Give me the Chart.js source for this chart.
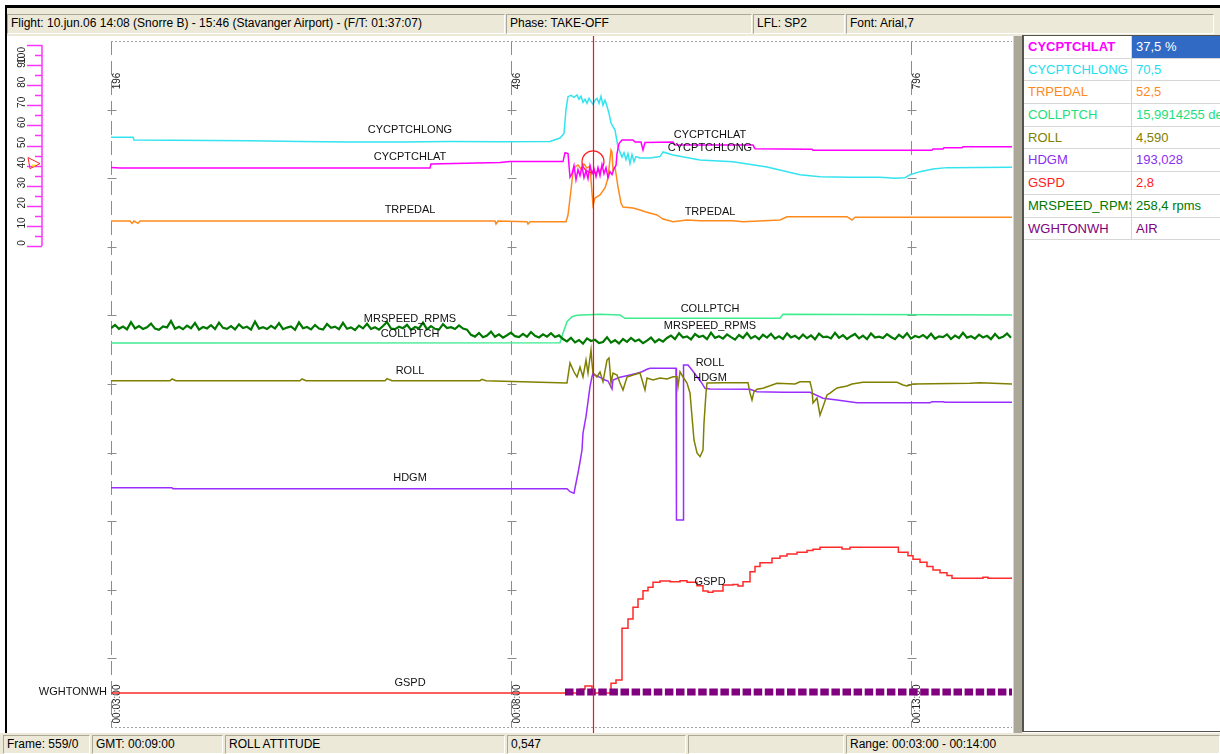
<!DOCTYPE html>
<html>
<head>
<meta charset="utf-8">
<title>Flight data - TAKE-OFF</title>
<script src="https://cdn.jsdelivr.net/npm/chart.js@4.4.1/dist/chart.umd.min.js"></script>
<style>
body { margin:0; width:1220px; height:754px; position:relative; overflow:hidden; background:#fff; font-family:"Liberation Sans", Arial, sans-serif; }
.blk { position:absolute; background:#000; }
.bar { position:absolute; background:#ECE9D8; }
.pane { position:absolute; box-sizing:border-box; border-top:1px solid #ACA899; border-left:1px solid #ACA899; border-right:1px solid #fff; border-bottom:1px solid #fff; font-size:12px; line-height:17px; padding-left:3px; white-space:nowrap; overflow:hidden; color:#000; }
#plot { position:absolute; left:7px; top:36px; width:1006px; height:697px; background:#fff; }
#panel { position:absolute; left:1022px; top:35px; width:198px; height:697px; background:#fff; box-sizing:border-box; border-left:2px solid #55544c; border-top:1px solid #55544c; border-bottom:1px solid #55544c; }
.row { height:22.7px; display:flex; border-bottom:1px solid #d6d6d6; box-sizing:border-box; font-size:13px; line-height:21.7px; }
.name { width:108px; padding-left:4px; border-right:1px solid #d6d6d6; overflow:hidden; white-space:nowrap; box-sizing:border-box; }
.val { flex:1; padding-left:4px; white-space:nowrap; overflow:hidden; }
.sel { background:#316AC5; color:#fff; }
</style>
</head>
<body>
<div class="blk" style="left:5px;top:5px;width:1215px;height:3px"></div>
<div class="blk" style="left:5px;top:5px;width:2px;height:728px"></div>

<div class="bar" style="left:7px;top:8px;width:1213px;height:28px">
  <div class="pane" style="left:0;top:6px;width:498px;height:20px">Flight: 10.jun.06 14:08 (Snorre B) - 15:46 (Stavanger Airport) - (F/T: 01:37:07)</div>
  <div class="pane" style="left:499px;top:6px;width:246px;height:20px">Phase: TAKE-OFF</div>
  <div class="pane" style="left:746px;top:6px;width:92px;height:20px">LFL: SP2</div>
  <div class="pane" style="left:839px;top:6px;width:368px;height:20px">Font: Arial,7</div>
</div>

<div id="plot"><canvas id="chart" width="1006" height="697"></canvas></div>
<div class="bar" style="left:1013px;top:36px;width:9px;height:697px;background:#ACA899;border-left:1px solid #d8d5c8;box-sizing:border-box"></div>

<div id="panel">
  <div class="row"><div class="name" style="color:#FF00FF;font-weight:bold">CYCPTCHLAT</div><div class="val sel">37,5 %</div></div>
  <div class="row"><div class="name" style="color:#22DDEE">CYCPTCHLONG</div><div class="val" style="color:#22DDEE">70,5</div></div>
  <div class="row"><div class="name" style="color:#FF8A1C">TRPEDAL</div><div class="val" style="color:#FF8A1C">52,5</div></div>
  <div class="row"><div class="name" style="color:#1EE07A">COLLPTCH</div><div class="val" style="color:#1EE07A">15,9914255 deg</div></div>
  <div class="row"><div class="name" style="color:#808000">ROLL</div><div class="val" style="color:#808000">4,590</div></div>
  <div class="row"><div class="name" style="color:#8A2EF0">HDGM</div><div class="val" style="color:#8A2EF0">193,028</div></div>
  <div class="row"><div class="name" style="color:#FF2020">GSPD</div><div class="val" style="color:#FF2020">2,8</div></div>
  <div class="row"><div class="name" style="color:#007800">MRSPEED_RPMS</div><div class="val" style="color:#007800">258,4 rpms</div></div>
  <div class="row"><div class="name" style="color:#800080">WGHTONWH</div><div class="val" style="color:#800080">AIR</div></div>
</div>

<div class="bar" style="left:0;top:733px;width:1220px;height:21px">
  <div class="pane" style="left:3px;top:2px;width:87px;height:19px">Frame: 559/0</div>
  <div class="pane" style="left:92px;top:2px;width:131px;height:19px">GMT: 00:09:00</div>
  <div class="pane" style="left:225px;top:2px;width:280px;height:19px">ROLL ATTITUDE</div>
  <div class="pane" style="left:507px;top:2px;width:179px;height:19px">0,547</div>
  <div class="pane" style="left:688px;top:2px;width:156px;height:19px"></div>
  <div class="pane" style="left:846px;top:2px;width:374px;height:19px">Range: 00:03:00 - 00:14:00</div>
</div>

<script>
// time axis (seconds from flight start)
const timeMin = 180;
const timeMax = 855.75;
const gridTimes = [180, 480, 780];
const frameLabels = ['196', '496', '796'];
const timeLabels = ['00:03:00', '00:08:00', '00:13:00'];
const cursorTime = 541.5;
const cursorMark = 41.9;
const latMarker = 41;
const latScaleTicks = [0, 10, 20, 30, 40, 50, 60, 70, 80, 90, 100];

// CYCPTCHLAT (%)
const latTimes = [180, 186.75, 419.25, 420, 471.75, 479.25, 519, 520.5, 522.75, 524.25, 525.75, 527.25, 528.75, 530.25, 531.75, 533.25, 534.75, 536.25, 537.75, 539.25, 540.75, 542.25, 543.75, 545.25, 546.75, 548.25, 549.75, 551.25, 552.75, 554.25, 555.75, 557.25, 558.75, 559.5, 561, 563.25, 571.5, 573, 577.5, 579, 580.5, 601.5, 603, 661.5, 663, 705.75, 706.5, 795.75, 796.5, 804, 804.75, 818.25, 819, 855.75];
const latValues = [39.1, 38.8, 38.8, 40.8, 41.5, 42.0, 42.0, 46.4, 46.0, 34.3, 36, 40, 33, 38, 35, 39.5, 34, 37.5, 33.5, 40, 36, 38.5, 34.5, 39, 35, 40.5, 36, 39, 34, 37, 35.5, 38.5, 40, 46, 51, 52.7, 52.7, 51.7, 51.7, 47.8, 51.5, 51.7, 50.2, 50.2, 48.4, 48.2, 47.6, 47.6, 48.3, 48.3, 48.9, 48.9, 49.4, 49.4];

// CYCPTCHLONG (%)
const longTimes = [180, 196.5, 197.25, 284.25, 321.75, 359.25, 396.75, 434.25, 471.75, 509.25, 516.75, 519.75, 521.25, 522.75, 525, 527.25, 529.5, 531, 532.5, 534, 535.5, 537, 538.5, 540, 541.5, 543, 544.5, 546, 547.5, 549, 550.5, 552, 553.5, 555, 558, 560.25, 563.25, 564.75, 566.25, 567.75, 569.25, 570.75, 572.25, 573.75, 576.75, 584.25, 591.75, 594, 601.5, 621.75, 646.5, 672, 696.75, 711.75, 734.25, 756.75, 768, 775.5, 779.25, 786.75, 796.5, 807, 855.75];
const longValues = [54.1, 54.1, 52.8, 52.4, 52.0, 51.7, 51.8, 52.0, 51.9, 52.0, 53.7, 56, 68, 74.3, 75.0, 74.0, 75.2, 73.0, 74.5, 71.5, 73.0, 71.0, 73.5, 72.0, 70.5, 72.5, 73.5, 71.0, 74.5, 70.0, 72.5, 69.5, 66.0, 61.2, 57.7, 49.3, 44.3, 46.5, 43.0, 46.0, 41.0, 45.5, 42.0, 44.5, 43.8, 43.8, 44.5, 46.8, 45.3, 42.8, 41.9, 39.3, 35.5, 34.5, 34.2, 34.2, 33.7, 34.0, 35.5, 37.0, 38.3, 39.0, 39.2];

// TRPEDAL
const trpTimes = [180, 194.25, 195.75, 197.25, 200.25, 201.75, 321.75, 468, 468.75, 470.25, 492, 492.75, 494.25, 521.25, 522.75, 525, 526.5, 528, 530.25, 532.5, 534.75, 537, 539.25, 540.75, 541.5, 543, 546.75, 550.5, 552.75, 555, 555.75, 556.5, 558, 560.25, 562.5, 564, 571.5, 576.75, 581.25, 589.5, 591.75, 594, 601.5, 612, 621.75, 646.5, 654, 681.75, 687, 732, 735.75, 738, 855.75];
const trpValues = [42.0, 42.0, 40.8, 42.0, 40.8, 42.0, 42.0, 42.0, 40.5, 42.0, 41.65, 40.5, 41.65, 41.65, 45, 57.5, 66.65, 69, 70, 68, 70.5, 68.5, 69.5, 56, 50, 53.5, 55, 58.5, 63.5, 77.5, 76.5, 67.5, 69, 59, 51, 49, 48.5, 47.5, 46.5, 45, 44, 43, 41.65, 42.5, 42.15, 42.15, 41.65, 42.5, 44.15, 44.15, 42.5, 43.85, 43.85];

// COLLPTCH (deg)
const collTimes = [180, 516.75, 519, 522, 525.75, 529.5, 546.75, 561.75, 565.5, 681.75, 684, 855.75];
const collValues = [10.4, 10.46, 12.4, 14.66, 15.66, 15.94, 16.14, 16.0, 15.34, 15.34, 16.14, 16.0];

// MRSPEED_RPMS, one sample every 3 s from 180 s
const rpmStart = 180;
const rpmStep = 3;
const rpmValues = [
  265.4, 266.9, 265.0, 266.1, 264.7, 268.3, 265.2, 266.4, 264.9, 265.8,
  267.6, 265.1, 264.5, 266.2, 265.7, 268.9, 265.0, 266.0, 264.8, 266.6,
  265.3, 267.9, 264.6, 265.9, 265.2, 266.8, 264.9, 268.1, 265.5, 265.0,
  266.3, 264.7, 267.2, 265.4, 266.0, 264.6, 268.6, 265.1, 265.8, 264.9,
  266.5, 265.2, 267.8, 264.8, 265.6, 266.2, 264.5, 268.2, 265.3, 265.9,
  264.7, 266.9, 265.1, 264.6, 267.4, 265.5, 266.1, 264.8, 268.0, 265.0,
  265.7, 264.4, 266.6, 265.2, 267.5, 264.9, 265.8, 264.6, 266.4, 268.4,
  265.1, 264.8, 266.0, 265.3, 267.0, 264.5, 265.9, 265.2, 268.1, 264.7,
  266.3, 265.0, 264.6, 267.3, 265.4, 265.8, 264.9, 266.7, 265.1, 264.6,
  262.0, 261.1, 262.9, 260.8, 261.6, 263.6, 261.0, 262.2, 260.6, 261.8,
  263.1, 261.3, 260.9, 262.5, 261.0, 263.4, 261.5, 260.7, 262.2, 261.1,
  262.8, 260.9, 261.7,
  259.9, 258.7, 260.5, 258.2, 259.4, 257.6, 260.2, 258.9, 259.5, 257.9,
  258.4, 260.8, 258.1, 259.3, 257.7, 259.9, 258.5, 260.4, 258.8, 259.6,
  257.8, 259.1, 260.6, 258.3, 259.7, 258.6,
  260.4, 261.6, 259.9, 262.8, 260.6, 261.2, 259.7, 262.4, 260.9, 261.5,
  259.8, 263.1, 260.5, 261.3, 260.1, 262.2, 260.8, 259.6, 261.9, 260.4,
  262.9, 260.2, 261.4, 259.8, 262.0, 260.6, 262.5, 260.1, 261.2, 259.9,
  262.7, 260.7, 261.5, 260.0, 262.1, 260.3, 261.7, 259.7, 262.6, 260.9,
  261.1, 260.2, 263.0, 260.5, 261.8, 259.9, 261.3, 262.4, 260.2, 261.6,
  259.8, 262.7, 260.6, 261.1, 260.4, 262.3, 260.9, 259.8, 262.0, 260.5,
  262.8, 260.1, 261.4, 260.7, 261.9, 260.3, 262.5, 260.0, 261.2, 260.8,
  262.2, 259.9, 261.6, 260.4, 263.0, 260.6, 261.3, 260.1, 262.1, 260.7,
  261.5, 259.8, 262.4, 260.3, 261.0, 262.6, 260.5
];

// ROLL (deg)
const rollTimes = [180, 224.25, 225.75, 228.75, 321.75, 323.25, 326.25, 385.5, 387, 390.75, 456.75, 458.25, 461.25, 522, 524.25, 527.25, 529.5, 531.75, 534, 536.25, 537.75, 540, 540.75, 541.5, 544.5, 546.75, 549, 552, 553.5, 555, 556.5, 559.5, 561.75, 564, 567, 571.5, 576.75, 580.5, 582, 586.5, 591.75, 597, 601.5, 604.5, 605.25, 606.75, 609, 612, 614.25, 615.75, 617.25, 619.5, 621.75, 624, 624.75, 626.25, 627, 639, 657.75, 659.25, 660.75, 662.25, 664.5, 669, 679.5, 693, 696.75, 704.25, 705.75, 706.5, 709.5, 711.75, 714, 717, 719.25, 724.5, 732, 735.75, 744, 769.5, 774, 777, 781.5, 824.25, 831.75, 855.75];
const rollValues = [2.02, 2.02, 2.6, 2.02, 2.02, 2.6, 2.02, 2.02, 2.7, 2.02, 2.02, 2.5, 2.02, 1.26, 7.92, 4.92, 3.26, 6.59, 3.26, 8.92, 4.59, 12.26, 7.92, 4.59, 3.26, 4.92, 1.69, 8.92, 9.59, 1.26, 4.59, 3.9, 1.26, -1.08, 3.26, 3.92, 4.59, -1.08, 2.9, 2.26, 2.9, 2.6, 3.36, 3.36, 0.02, 5.02, 3.26, 1.26, -2.08, -9.98, -17.74, -22.08, -23.31, -21.08, -12.08, -2.08, 1.26, 1.36, 1.36, -2.08, -4.41, -1.64, -0.8, -0.51, 1.16, 0.92, 1.69, 1.69, -1.08, -5.41, -3.74, -9.41, -6.64, -2.74, -2.08, -0.41, 0.25, 0.92, 1.49, 1.49, 0.59, 0.25, 0.92, 1.16, 1.36, 0.92];

// HDGM (deg)
const hdgTimes = [180, 225.75, 226.5, 522, 524.25, 527.25, 528, 530.25, 531.75, 533.25, 534, 536.25, 537.75, 539.25, 540.75, 541.5, 543, 546.75, 550.5, 552.75, 555.75, 556.5, 561.75, 569.25, 574.5, 578.25, 582, 584.25, 603.75, 604.1, 609, 609.4, 612.75, 615.75, 619.5, 623.25, 625.5, 629.25, 659.25, 664.5, 684, 704.25, 714, 724.5, 739.5, 794.25, 795.75, 804, 805.5, 855.75];
const hdgValues = [78.3, 78.3, 77.3, 77.3, 74.3, 72.7, 78, 93, 104, 116, 133, 149.3, 164.3, 179.3, 189.3, 192.7, 191, 188.7, 186, 185, 177, 186, 188.7, 191, 192.7, 194.3, 196.7, 197.7, 197.7, 46, 46, 201, 201, 196, 189.3, 182.7, 177.7, 177, 176.7, 174.3, 173.7, 173.7, 167.7, 166, 163.3, 163.3, 164.3, 164.3, 163.7, 163.7];

// GSPD (kt)
const gspdTimes = [180, 531.75, 535.5, 540.75, 555, 558.75, 563.25, 567.75, 571.5, 575.25, 579, 582.75, 586.5, 591.75, 599.25, 606.75, 612, 619.5, 624, 627.75, 631.5, 639, 646.5, 650.25, 654, 659.25, 663, 666.75, 675.75, 681.75, 687, 694.5, 702, 706.5, 711.75, 726.75, 728.25, 734.25, 770.5, 777.75, 781.5, 786.75, 792, 796.5, 801.75, 807, 810.75, 834, 837.75, 855.75];
const gspdValues = [0, 2.1, 3.9, 0, 5.4, 7.2, 35.9, 41.1, 47.6, 52.2, 56.8, 58.7, 61.5, 62.2, 61.8, 62.4, 61.5, 59.6, 56.7, 55.9, 56.7, 60.0, 60.3, 59.4, 61.8, 67.4, 70.2, 72.4, 74.8, 76.1, 77.2, 78.2, 79.1, 79.8, 80.9, 80.9, 80.0, 80.9, 78.2, 76.3, 74.3, 72.6, 70.2, 68.3, 66.8, 65.2, 63.7, 64.3, 63.7, 64.3];

// WGHTONWH (0 = GROUND, 1 = AIR)
const wowTimes = [180, 520.5, 855.75];
const wowValues = [0, 1, 1];

// trace names written along the traces
const traceLabels = [
  { text: 'CYCPTCHLONG', axis: 'yPct', t: 404.25, v: 57.7 },
  { text: 'CYCPTCHLAT', axis: 'yPct', t: 404.25, v: 44.3 },
  { text: 'TRPEDAL', axis: 'yTrp', t: 404.25, v: 47.5 },
  { text: 'MRSPEED_RPMS', axis: 'yRpm', t: 404.25, v: 269.9 },
  { text: 'COLLPTCH', axis: 'yColl', t: 404.25, v: 12.3 },
  { text: 'ROLL', axis: 'yRoll', t: 404.25, v: 5.26 },
  { text: 'HDGM', axis: 'yHdg', t: 404.25, v: 88 },
  { text: 'GSPD', axis: 'yGspd', t: 404.25, v: 5.6 },
  { text: 'CYCPTCHLAT', axis: 'yPct', t: 629.25, v: 55.2 },
  { text: 'CYCPTCHLONG', axis: 'yPct', t: 629.25, v: 48.6 },
  { text: 'TRPEDAL', axis: 'yTrp', t: 629.25, v: 46.65 },
  { text: 'COLLPTCH', axis: 'yColl', t: 629.25, v: 17.3 },
  { text: 'MRSPEED_RPMS', axis: 'yRpm', t: 629.25, v: 266.4 },
  { text: 'ROLL', axis: 'yRoll', t: 629.25, v: 7.8 },
  { text: 'HDGM', axis: 'yHdg', t: 629.25, v: 187.7 },
  { text: 'GSPD', axis: 'yGspd', t: 629.25, v: 61.5 }
];

function toPoints(times, values) {
  return times.map((t, i) => ({ x: t, y: values[i] }));
}

function vText(ctx, text, x, y) {
    ctx.save();
    ctx.translate(x, y);
    ctx.rotate(-Math.PI / 2);
    ctx.textAlign = 'center';
    ctx.textBaseline = 'middle';
    ctx.fillText(text, 0, 0);
    ctx.restore();
}

// frame, cursor, scale and labels
const overlay = {
    id: 'overlay',
    beforeDatasetsDraw(chart) {
        const { ctx, chartArea: a, scales } = chart;
        const xs = scales.x;
        ctx.save();
        ctx.strokeStyle = '#a0a0a0';
        ctx.lineWidth = 1;
        ctx.setLineDash([2, 2]);
        [a.top, a.bottom].forEach(y => {
            ctx.beginPath();
            ctx.moveTo(a.left, y + 0.5);
            ctx.lineTo(a.right, y + 0.5);
            ctx.stroke();
        });
        ctx.setLineDash([]);
        ctx.strokeStyle = '#8c8c8c';
        ctx.fillStyle = '#222';
        ctx.font = '10px "Liberation Sans"';
        gridTimes.forEach((t, i) => {
            const x = Math.round(xs.getPixelForValue(t)) + 0.5;
            for (let k = 1; k < 10; k++) {
                const y = Math.round(a.top + (a.bottom - a.top) * k / 10) + 0.5;
                ctx.beginPath();
                ctx.moveTo(x - 4, y);
                ctx.lineTo(x + 5, y);
                ctx.stroke();
            }
            vText(ctx, frameLabels[i], x + 6, a.top + 40);
            vText(ctx, timeLabels[i], x + 6, a.bottom - 23);
        });
        ctx.restore();
    },
    afterDatasetsDraw(chart) {
        const { ctx, chartArea: a, scales } = chart;
        const xs = scales.x;
        ctx.save();

        // trace names
        ctx.font = '11px "Liberation Sans"';
        ctx.fillStyle = '#111';
        ctx.textAlign = 'center';
        ctx.textBaseline = 'middle';
        traceLabels.forEach(l => {
            ctx.fillText(l.text, xs.getPixelForValue(l.t), scales[l.axis].getPixelForValue(l.v));
        });

        // WGHTONWH name left of its trace
        ctx.textAlign = 'right';
        ctx.fillText('WGHTONWH', a.left - 4, scales.yWow.getPixelForValue(1));

        // cursor
        const cx = Math.round(xs.getPixelForValue(cursorTime)) + 0.5;
        ctx.strokeStyle = '#ff1010';
        ctx.lineWidth = 1.2;
        ctx.beginPath();
        ctx.moveTo(cx, 0);
        ctx.lineTo(cx, chart.height);
        ctx.stroke();

        // CYCPTCHLAT scale on the left
        const ys = scales.yPct;
        const lx = a.left - 69;
        const top = ys.getPixelForValue(100);
        ctx.strokeStyle = '#ff33ff';
        ctx.lineWidth = 1.5;
        ctx.beginPath();
        ctx.moveTo(lx, ys.getPixelForValue(0));
        ctx.lineTo(lx, top);
        ctx.stroke();
        for (let v = 0; v <= 100; v += 5) {
            const y = Math.round(ys.getPixelForValue(v)) + 0.5;
            ctx.beginPath();
            ctx.moveTo(lx - (v % 10 === 0 ? 15 : 7), y);
            ctx.lineTo(lx, y);
            ctx.stroke();
        }
        ctx.fillStyle = '#222';
        ctx.font = '10px "Liberation Sans"';
        latScaleTicks.forEach(v => {
            const half = ctx.measureText(String(v)).width / 2;
            const y = Math.max(ys.getPixelForValue(v) - 3, top + half + 2);
            vText(ctx, String(v), lx - 20, y);
        });

        // value marker
        const my = ys.getPixelForValue(latMarker);
        ctx.strokeStyle = '#ff2020';
        ctx.lineWidth = 1;
        ctx.beginPath();
        ctx.moveTo(lx - 14, my - 6);
        ctx.lineTo(lx - 2, my);
        ctx.lineTo(lx - 12, my + 5);
        ctx.closePath();
        ctx.stroke();
        ctx.fillStyle = '#f0e020';
        ctx.fillRect(lx - 10, my + 1, 3, 2);
        ctx.restore();
    }
};

const datasets = [
    { label: 'CYCPTCHLAT', data: toPoints(latTimes, latValues), yAxisID: 'yPct', borderColor: '#FF00FF' },
    { label: 'CYCPTCHLONG', data: toPoints(longTimes, longValues), yAxisID: 'yPct', borderColor: '#33E3F0' },
    { label: 'cursor', data: [{ x: cursorTime, y: cursorMark }], yAxisID: 'yPct', showLine: false,
      pointRadius: 11, pointBorderColor: '#FF2020', pointBackgroundColor: 'rgba(0,0,0,0)', pointBorderWidth: 1.2 },
    { label: 'TRPEDAL', data: toPoints(trpTimes, trpValues), yAxisID: 'yTrp', borderColor: '#FF8A1C' },
    { label: 'MRSPEED_RPMS', data: rpmValues.map((v, i) => ({ x: rpmStart + i * rpmStep, y: v })), yAxisID: 'yRpm',
      borderColor: '#007800', borderWidth: 2.2 },
    { label: 'COLLPTCH', data: toPoints(collTimes, collValues), yAxisID: 'yColl', borderColor: '#3DEB90' },
    { label: 'ROLL', data: toPoints(rollTimes, rollValues), yAxisID: 'yRoll', borderColor: '#808000' },
    { label: 'HDGM', data: toPoints(hdgTimes, hdgValues), yAxisID: 'yHdg', borderColor: '#9A2EFF' },
    { label: 'WGHTONWH', data: toPoints(wowTimes, wowValues), yAxisID: 'yWow', borderColor: '#800080',
      borderWidth: 7, borderDash: [8.5, 2.6], stepped: true,
      segment: { borderColor: c => c.p0.parsed.y === 0 ? 'rgba(0,0,0,0)' : undefined } },
    { label: 'GSPD', data: toPoints(gspdTimes, gspdValues), yAxisID: 'yGspd', borderColor: '#FF2A2A', stepped: true }
];

const hiddenY = (min, max) => ({ type: 'linear', display: false, min, max });

new Chart(document.getElementById('chart').getContext('2d'), {
    type: 'line',
    data: { datasets },
    options: {
        responsive: false,
        animation: false,
        events: [],
        layout: { autoPadding: false, padding: { left: 104, right: 1, top: 5, bottom: 6 } },
        plugins: { legend: { display: false }, tooltip: { enabled: false } },
        elements: {
            point: { radius: 0 },
            line: { tension: 0, borderWidth: 1.5, borderCapStyle: 'butt' }
        },
        scales: {
            x: {
                type: 'linear',
                min: timeMin,
                max: timeMax,
                afterBuildTicks: s => { s.ticks = gridTimes.map(value => ({ value })); },
                afterFit: s => { s.height = 0; },
                ticks: { display: false },
                border: { display: false, dash: [14, 6] },
                grid: { color: '#8c8c8c', drawTicks: false }
            },
            yPct: hiddenY(-239.3, 102.0),
            yTrp: hiddenY(-211, 132),
            yColl: hiddenY(-66.4, 70.8),
            yRpm: hiddenY(65.9, 408.9),
            yRoll: hiddenY(-113.41, 115.26),
            yHdg: hiddenY(-161, 525),
            yGspd: hiddenY(-18.9, 362.2),
            yWow: hiddenY(-16.5, 326.5)
        }
    },
    plugins: [overlay]
});
</script>
</body>
</html>
